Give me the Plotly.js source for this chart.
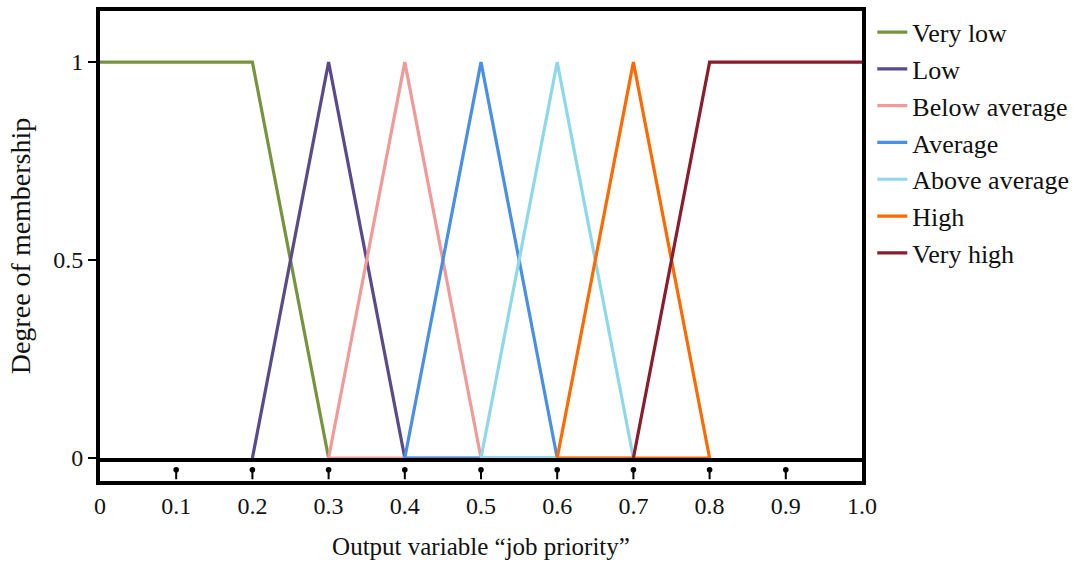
<!DOCTYPE html>
<html>
<head>
<meta charset="utf-8">
<script src="https://cdn.plot.ly/plotly-3.0.1.min.js"></script>
<style>html,body{margin:0;padding:0;background:#fff;}#chart{width:1088px;height:565px;}</style>
</head>
<body>
<div id="chart"></div>
<script>
// Membership functions of output variable "job priority"
const seriesNames = ["Very low", "Low", "Below average", "Average", "Above average", "High", "Very high"];
const veryLowX = [0, 0.2, 0.3];        const veryLowY = [1, 1, 0];
const lowX = [0.2, 0.3, 0.4];          const lowY = [0, 1, 0];
const belowAvgX = [0.3, 0.4, 0.5, 0.3]; const belowAvgY = [0, 1, 0, 0];
const averageX = [0.4, 0.5, 0.6, 0.4];  const averageY = [0, 1, 0, 0];
const aboveAvgX = [0.5, 0.6, 0.7, 0.5]; const aboveAvgY = [0, 1, 0, 0];
const highX = [0.6, 0.7, 0.8, 0.6];     const highY = [0, 1, 0, 0];
const veryHighX = [0.7, 0.8, 1.0];      const veryHighY = [0, 1, 1];
const xTickVals = [0, 0.1, 0.2, 0.3, 0.4, 0.5, 0.6, 0.7, 0.8, 0.9, 1.0];
const xTickText = ["0", "0.1", "0.2", "0.3", "0.4", "0.5", "0.6", "0.7", "0.8", "0.9", "1.0"];
const arrowTicks = [0.1, 0.2, 0.3, 0.4, 0.5, 0.6, 0.7, 0.8, 0.9];
const yTickVals = [0, 0.5, 1];
const yTickText = ["0", "0.5", "1"];

const colors = ["#77933C", "#5B4A8A", "#F09A9A", "#4A8FE7", "#8FD8EA", "#FF6A00", "#8B1C2C"];
const xs = [veryLowX, lowX, belowAvgX, averageX, aboveAvgX, highX, veryHighX];
const ys = [veryLowY, lowY, belowAvgY, averageY, aboveAvgY, highY, veryHighY];

const FONT = "Liberation Serif, Times New Roman, serif";

const traces = seriesNames.map((n, i) => ({
  type: "scatter", mode: "lines", name: n, x: xs[i], y: ys[i],
  line: {color: colors[i], width: 3.2},
  hoverinfo: "skip"
}));

const annotations = arrowTicks.map(v => ({
  x: v, xref: "x", y: 0.024, yref: "paper", text: "", showarrow: true,
  ax: 0, ay: 11, arrowhead: 6, arrowsize: 0.7, arrowwidth: 2, arrowcolor: "#000"
}));

const layout = {
  width: 1088, height: 565,
  margin: {l: 100, r: 226, t: 11, b: 84, autoexpand: false},
  paper_bgcolor: "#fff", plot_bgcolor: "#fff",
  font: {family: FONT, size: 24, color: "#111"},
  showlegend: true,
  legend: {x: 1.0135, xanchor: "left", y: 1.005, yanchor: "top",
           font: {family: FONT, size: 26, color: "#111"},
           tracegroupgap: 0, bgcolor: "rgba(0,0,0,0)"},
  xaxis: {range: [0, 1], tickvals: xTickVals, ticktext: xTickText,
          ticks: "", showgrid: false, zeroline: false,
          showline: true, linewidth: 4, linecolor: "#000", mirror: true,
          tickfont: {family: FONT, size: 24, color: "#111"},
          title: {text: "Output variable \u201cjob priority\u201d", font: {family: FONT, size: 25, color: "#111"}, standoff: 21}},
  yaxis: {range: [-0.058, 1.129], tickvals: yTickVals, ticktext: yTickText,
          ticks: "outside", ticklen: 8, tickwidth: 2, tickcolor: "#000",
          showgrid: false, zeroline: false,
          showline: true, linewidth: 4, linecolor: "#000", mirror: true,
          tickfont: {family: FONT, size: 24, color: "#111"},
          title: {text: "Degree of membership", font: {family: FONT, size: 28, color: "#111"}, standoff: 15}},
  shapes: [{type: "line", xref: "paper", x0: 0, x1: 1, yref: "y", ysizemode: "pixel", yanchor: 0,
            y0: -2, y1: -2, line: {color: "#000", width: 4}, layer: "above"}],
  annotations: annotations
};

Plotly.newPlot("chart", traces, layout, {staticPlot: true, displayModeBar: false});
</script>
</body>
</html>
